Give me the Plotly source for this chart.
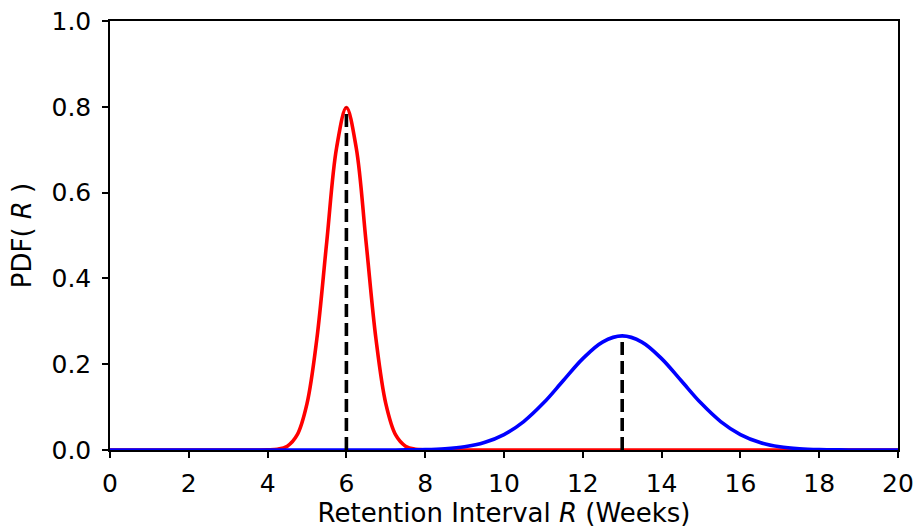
import plotly.graph_objects as go

# Red distribution
red_x = [0, 3.5, 3.75, 4.0, 4.25, 4.5, 4.75, 5.0, 5.25, 5.5, 5.75, 6.0,
         6.25, 6.5, 6.75, 7.0, 7.25, 7.5, 7.75, 8.0, 8.25, 8.5, 20]
red_y = [0, 0.0, 0.0, 0.0003, 0.0017, 0.0089, 0.035, 0.108, 0.259, 0.484, 0.704, 0.798,
         0.704, 0.484, 0.259, 0.108, 0.035, 0.0089, 0.0017, 0.0003, 0.0, 0.0, 0]

# Blue distribution
blue_x = [0, 6.0, 6.5, 7.0, 7.5, 8.0, 8.5, 9.0, 9.5, 10.0, 10.5, 11.0, 11.5, 12.0, 12.5, 13.0,
          13.5, 14.0, 14.5, 15.0, 15.5, 16.0, 16.5, 17.0, 17.5, 18.0, 18.5, 19.0, 19.5, 20.0]
blue_y = [0, 0.0, 0.0, 0.0001, 0.0003, 0.001, 0.003, 0.0076, 0.0175, 0.036, 0.0663, 0.1093, 0.1613, 0.213, 0.2516, 0.266,
          0.2516, 0.213, 0.1613, 0.1093, 0.0663, 0.036, 0.0175, 0.0076, 0.003, 0.001, 0.0003, 0.0001, 0.0, 0.0]

# Peak markers (mean, peak height)
peak_x = [6, 13]
peak_y = [0.798, 0.266]

x_ticks = [0, 2, 4, 6, 8, 10, 12, 14, 16, 18, 20]
y_ticks = [0.0, 0.2, 0.4, 0.6, 0.8, 1.0]

fig = go.Figure()
fig.add_trace(go.Scatter(x=red_x, y=red_y, mode="lines", line=dict(color="#ff0000", width=3.6, shape="spline"),
                         showlegend=False))
fig.add_trace(go.Scatter(x=blue_x, y=blue_y, mode="lines", line=dict(color="#0000ff", width=3.6, shape="spline"),
                         showlegend=False))
for px, py in zip(peak_x, peak_y):
    fig.add_trace(go.Scatter(x=[px, px], y=[0, py], mode="lines",
                             line=dict(color="black", width=3.6, dash="13px,6px"), showlegend=False))

font = dict(family="DejaVu Sans", size=25, color="black")
tfont = dict(family="DejaVu Sans", size=26, color="black")
fig.update_layout(
    width=919, height=528,
    margin=dict(l=110, r=21, t=21, b=78),
    plot_bgcolor="white", paper_bgcolor="white",
    font=font,
    xaxis=dict(range=[0, 20], tickvals=x_ticks, ticktext=[str(v) for v in x_ticks],
               showgrid=False, zeroline=False, showline=True, linecolor="black", linewidth=1.5,
               mirror=True, ticks="outside", ticklen=6, tickwidth=1.5, tickcolor="black",
               ticklabelstandoff=4, tickfont=font,
               automargin=False,
               title=dict(text="Retention Interval <i>R</i> (Weeks)", font=tfont, standoff=15)),
    yaxis=dict(range=[0, 1.0], tickvals=y_ticks, ticktext=[f"{v:.1f}" for v in y_ticks],
               showgrid=False, zeroline=False, showline=True, linecolor="black", linewidth=1.5,
               mirror=True, ticks="outside", ticklen=6, tickwidth=1.5, tickcolor="black",
               ticklabelstandoff=6, tickfont=font,
               automargin=False,
               title=dict(text="PDF( <i>R</i> )", font=tfont, standoff=12)),
)

fig.write_html("out.html")
